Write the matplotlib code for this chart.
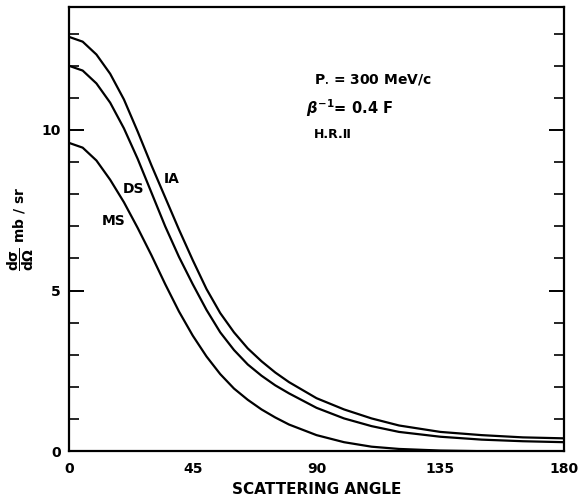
import matplotlib
matplotlib.use("Agg")
import matplotlib.pyplot as plt
from matplotlib.ticker import MultipleLocator, FixedLocator

plt.rcParams.update({
    "font.family": "DejaVu Sans",
    "font.weight": "bold",
    "mathtext.fontset": "dejavusans",
})

# values (angle in degrees, cross section in mb/sr)
angle = [0, 5, 10, 15, 20, 25, 30, 35, 40, 45, 50, 55, 60, 65, 70, 75, 80,
         90, 100, 110, 120, 135, 150, 165, 180]
ia = [12.9, 12.75, 12.35, 11.75, 10.95, 9.95, 8.9, 7.9, 6.9, 5.95, 5.05,
      4.3, 3.7, 3.2, 2.8, 2.45, 2.15, 1.65, 1.3, 1.02, 0.8, 0.6, 0.5, 0.43,
      0.4]
ds = [12.0, 11.85, 11.45, 10.85, 10.05, 9.1, 8.05, 7.0, 6.05, 5.2, 4.4,
      3.7, 3.15, 2.7, 2.35, 2.05, 1.8, 1.35, 1.02, 0.78, 0.6, 0.45, 0.36,
      0.31, 0.28]
ms = [9.6, 9.45, 9.05, 8.45, 7.75, 6.95, 6.1, 5.2, 4.35, 3.6, 2.95, 2.4,
      1.95, 1.6, 1.3, 1.05, 0.83, 0.5, 0.28, 0.14, 0.07, 0.02, 0.0, 0.0, 0.0]

xticks = [0, 45, 90, 135, 180]

fig = plt.figure(figsize=(5.84, 4.98), dpi=100)
ax = fig.add_axes([0.118, 0.094, 0.848, 0.892])

for ys in (ia, ds, ms):
    ax.plot(angle, ys, color="black", lw=1.6, solid_joinstyle="round")

ax.set_xlim(0, 180)
ax.set_ylim(0, 13.83)

ax.set_xticks(xticks)
ax.set_xticklabels([str(t) for t in xticks], fontsize=10, fontweight="bold")
ax.xaxis.set_minor_locator(FixedLocator([45, 90, 135]))
ax.tick_params(axis="x", which="major", length=0, pad=8)
ax.tick_params(axis="x", which="minor", direction="in", length=9, width=1.4,
               top=True, bottom=True)

ax.yaxis.set_major_locator(MultipleLocator(5))
ax.yaxis.set_minor_locator(MultipleLocator(1))
ax.tick_params(axis="y", which="major", direction="in", length=11, width=1.4,
               left=True, right=True, labelsize=10, pad=6)
ax.tick_params(axis="y", which="minor", direction="in", length=7, width=1.2,
               left=True, right=True)
for lab in ax.get_yticklabels():
    lab.set_fontweight("bold")

for sp in ax.spines.values():
    sp.set_linewidth(1.6)

ax.set_xlabel("SCATTERING ANGLE", fontsize=11, fontweight="bold", labelpad=4)
ax.set_ylabel(r"$\mathbf{\dfrac{d\sigma}{d\Omega}}$ mb / sr", fontsize=10,
              fontweight="bold", labelpad=4)

ax.text(34.5, 8.35, "IA", fontsize=10, fontweight="bold")
ax.text(19.5, 8.05, "DS", fontsize=10, fontweight="bold")
ax.text(12, 7.05, "MS", fontsize=10, fontweight="bold")

ax.text(89, 11.45, r"P$_{\bullet}$ = 300 MeV/c", fontsize=10, fontweight="bold")
ax.text(86, 10.5, r"$\beta^{-1}$= 0.4 F", fontsize=10.5, fontweight="bold")
ax.text(89, 9.75, "H.R.\u2161", fontsize=9, fontweight="bold")

fig.savefig("out.png", dpi=100)
